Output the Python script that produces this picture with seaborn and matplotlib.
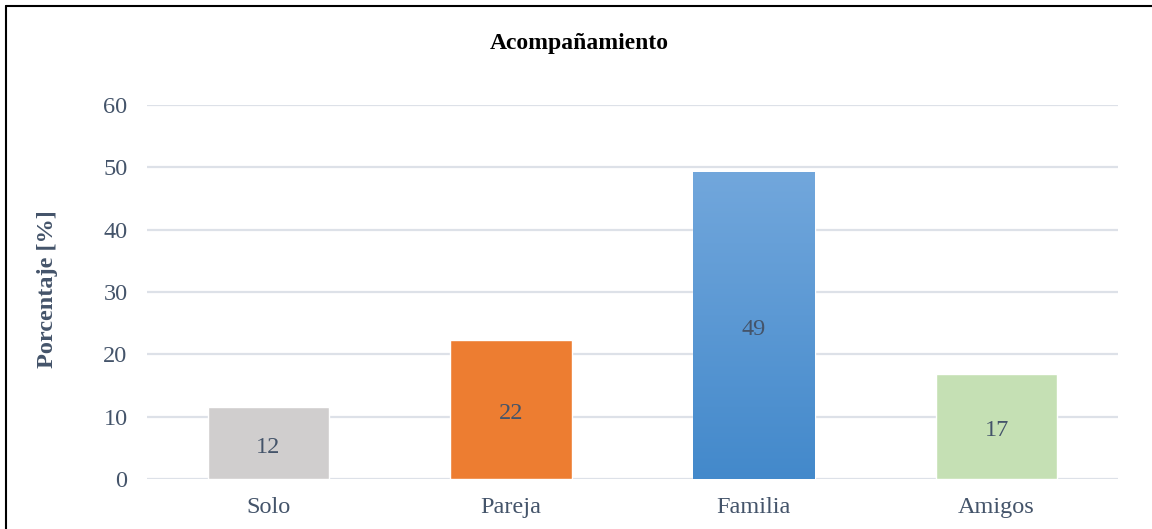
import numpy as np
import pandas as pd
import matplotlib
matplotlib.use("Agg")
import matplotlib.pyplot as plt
from matplotlib.lines import Line2D
from matplotlib.colors import LinearSegmentedColormap
import seaborn as sns

categories = ["Solo", "Pareja", "Familia", "Amigos"]
values = [11.6, 22.3, 49.3, 16.9]
bar_colors = ["#D0CECE", "#ED7D31", "#5B9BD5", "#C5E0B4"]
y_ticks = [0, 10, 20, 30, 40, 50, 60]
title = "Acompañamiento"
ylabel = "Porcentaje [%]"

sns.set_theme(style="white")
plt.rcParams["font.family"] = ["Liberation Serif", "DejaVu Serif"]

text_color = "#44546A"
fs = 17.5
fig = plt.figure(figsize=(11.52, 5.29), dpi=100)
ax = fig.add_axes([147/1152, 1-479/529, (1118-147)/1152, (479-105)/529])

df = pd.DataFrame({"cat": categories, "val": values})
sns.barplot(data=df, x="cat", y="val", hue="cat", palette=bar_colors,
            width=0.5, legend=False, ax=ax, saturation=1)

ax.set_ylim(0, 60)
ax.set_xlim(-0.5, 3.5)
ax.set_yticks(y_ticks)
ax.yaxis.grid(True, color="#DDE1E8", linewidth=1.6)
ax.set_axisbelow(True)
for s in ax.spines.values():
    s.set_visible(False)
ax.tick_params(axis="both", length=0, labelsize=fs, colors=text_color)
ax.tick_params(axis="y", pad=14)
ax.tick_params(axis="x", pad=13)
ax.set_xlabel("")
ax.set_ylabel("")
fig.text(48/1152, 1-289/529, ylabel, rotation=90, ha="center", va="center",
         fontsize=fs, fontweight="bold", color=text_color)
fig.text(579/1152, 1-43/529, title, ha="center", va="center",
         fontsize=17, fontweight="bold", color="black")

# gradient for Familia bar
fam = ax.patches[2]
x0, y0 = fam.get_x(), fam.get_y()
w, h = fam.get_width(), fam.get_height()
cmap = LinearSegmentedColormap.from_list("g", ["#4389CB", "#72A7DC"])
grad = np.linspace(0, 1, 256).reshape(-1, 1)
im = ax.imshow(grad, cmap=cmap, extent=[x0, x0 + w, y0, y0 + h],
               origin="lower", aspect="auto", zorder=fam.get_zorder() + 0.1)
im.set_clip_path(fam)
ax.set_xlim(-0.5, 3.5)
ax.set_ylim(0, 60)

for c in ax.containers:
    labels = ax.bar_label(c, fmt="%.0f", label_type="center", fontsize=fs, color=text_color)
    for t in labels:
        t.set_zorder(5)
        t.xyann = (0, -3)

fig.add_artist(Line2D([6/1152, 6/1152], [0, 1-6/529], color="black", linewidth=1.5, transform=fig.transFigure))
fig.add_artist(Line2D([6/1152, 1], [1-6/529, 1-6/529], color="black", linewidth=1.5, transform=fig.transFigure))

fig.savefig("out.png", dpi=100)
